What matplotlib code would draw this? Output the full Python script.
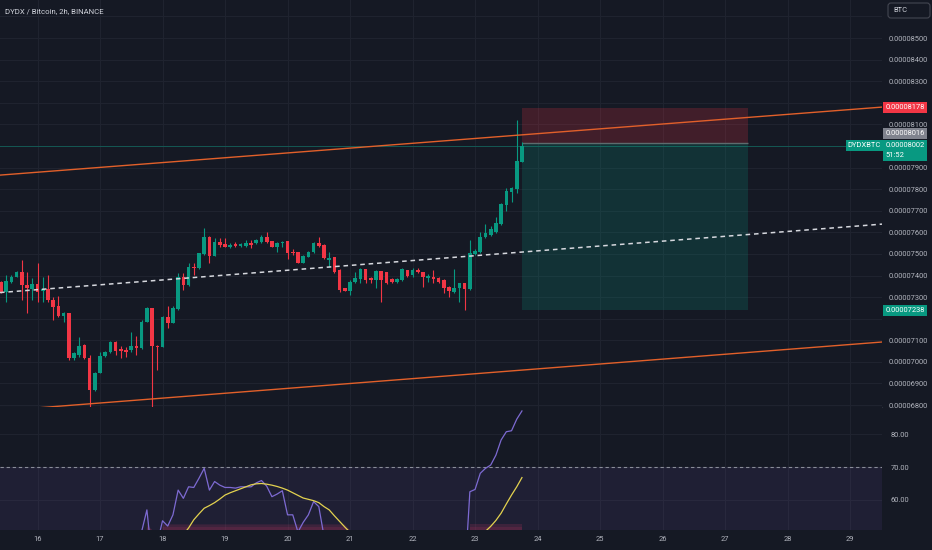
import matplotlib
matplotlib.use('Agg')
import matplotlib.pyplot as plt
import matplotlib.transforms as mtransforms
from matplotlib.patches import FancyBboxPatch
from matplotlib.ticker import FuncFormatter
import numpy as np

plt.rcParams['font.family'] = ['Roboto', 'DejaVu Sans']

# DYDX/BTC 2h candles, prices in satoshi (1e-8 BTC); first bar opens day 15, 10:00
start_day = 15 + 10 / 24.0
opens = [7371, 7322, 7368, 7391, 7418, 7356, 7337, 7361, 7328, 7337,
         7286, 7259, 7212, 7225, 7016, 7032, 7078, 7019, 6870, 6950,
         7027, 7044, 7093, 7058, 7055, 7055, 7075, 7063, 7186, 7248,
         7073, 7070, 7209, 7181, 7243, 7391, 7356, 7441, 7433, 7500,
         7580, 7492, 7557, 7546, 7533, 7546, 7537, 7537, 7552, 7549,
         7557, 7577, 7561, 7533, 7549, 7561, 7510, 7507, 7459, 7487,
         7507, 7552, 7541, 7472, 7484, 7425, 7340, 7330, 7368, 7382,
         7428, 7387, 7379, 7421, 7415, 7384, 7368, 7379, 7425, 7402,
         7425, 7418, 7390, 7391, 7390, 7379, 7348, 7325, 7340, 7364,
         7337, 7500, 7510, 7577, 7588, 7603, 7639, 7727, 7788, 7799,
         7927]
highs = [7375, 7402, 7402, 7422, 7472, 7418, 7387, 7456, 7395, 7402,
         7302, 7305, 7232, 7228, 7047, 7114, 7083, 7032, 6955, 7047,
         7050, 7098, 7097, 7073, 7070, 7137, 7121, 7194, 7252, 7251,
         7078, 7212, 7259, 7259, 7413, 7413, 7456, 7456, 7506, 7618,
         7583, 7572, 7572, 7572, 7549, 7557, 7550, 7564, 7564, 7568,
         7588, 7603, 7561, 7557, 7561, 7561, 7521, 7507, 7495, 7515,
         7557, 7577, 7546, 7507, 7487, 7428, 7343, 7379, 7418, 7433,
         7428, 7391, 7425, 7421, 7418, 7387, 7387, 7433, 7425, 7433,
         7433, 7418, 7407, 7425, 7395, 7382, 7351, 7428, 7367, 7367,
         7566, 7521, 7603, 7639, 7629, 7673, 7734, 7804, 7812, 8120,
         8020]
lows = [7320, 7279, 7364, 7391, 7286, 7225, 7286, 7279, 7279, 7279,
        7194, 7209, 7186, 7009, 7009, 7024, 7011, 6792, 6867, 6947,
        7024, 7040, 7032, 7019, 7024, 7047, 7032, 7060, 7183, 6792,
        6962, 7067, 7155, 7178, 7240, 7333, 7353, 7402, 7430, 7495,
        7459, 7490, 7533, 7530, 7526, 7533, 7533, 7530, 7526, 7546,
        7549, 7549, 7530, 7510, 7530, 7475, 7495, 7456, 7456, 7484,
        7503, 7533, 7475, 7441, 7413, 7325, 7327, 7310, 7364, 7364,
        7364, 7364, 7340, 7279, 7359, 7364, 7364, 7374, 7395, 7395,
        7410, 7348, 7371, 7364, 7364, 7317, 7299, 7320, 7279, 7240,
        7334, 7495, 7506, 7572, 7583, 7598, 7636, 7700, 7742, 7781,
        7924]
closes = [7325, 7374, 7395, 7418, 7356, 7340, 7361, 7325, 7337, 7286,
          7256, 7212, 7225, 7016, 7039, 7075, 7016, 6870, 6950, 7027,
          7044, 7093, 7052, 7050, 7047, 7075, 7063, 7186, 7248, 7073,
          7067, 7209, 7181, 7248, 7391, 7356, 7441, 7433, 7503, 7580,
          7492, 7557, 7541, 7533, 7541, 7537, 7546, 7549, 7541, 7564,
          7577, 7557, 7533, 7552, 7557, 7503, 7503, 7459, 7490, 7510,
          7552, 7537, 7479, 7479, 7418, 7333, 7330, 7371, 7387, 7428,
          7379, 7379, 7422, 7379, 7364, 7368, 7382, 7428, 7399, 7425,
          7415, 7391, 7399, 7384, 7371, 7344, 7328, 7340, 7364, 7337,
          7503, 7515, 7580, 7595, 7614, 7642, 7731, 7793, 7804, 7930,
          8002]

rsi = [45, 48, 49, 50, 44, 43, 46, 42, 44, 40,
       37, 34, 35, 24, 27, 33, 29, 22, 30, 38,
       40, 45, 41, 40, 40, 44, 43, 50.5, 57.0, 42.0,
       47.0, 53.7, 52.1, 55.5, 63.0, 60.5, 64.0, 63.8, 66.6, 69.6,
       63.0, 65.6, 64.5, 63.8, 63.8, 63.6, 64.0, 64.0, 64.0, 65.2,
       65.9, 64.2, 61.0, 61.8, 62.8, 55.5, 55.5, 50.3, 53.2, 55.5,
       59.5, 58.0, 49.0, 45, 40, 33, 33, 38, 40, 44,
       40, 40, 44, 40, 37, 37, 39, 44, 42, 44,
       43, 40, 41, 41, 40, 37, 35, 37, 40, 36,
       62.5, 63.2, 68.1, 69.6, 70.6, 73.6, 78.2, 80.7, 81.0, 84.5,
       87.0]
rsi_ma = [46, 46, 46, 46, 46, 45.5, 45.5, 45, 45, 44.5,
          44, 43.5, 43, 42, 41.5, 41, 40.5, 40, 39.5, 39.5,
          39.5, 39.5, 39.5, 39.5, 39.5, 40, 40.5, 41, 42, 42.5,
          43.5, 44.5, 46, 47.5, 48.5, 49.5, 51.5, 54.0, 55.8, 57.5,
          58.3, 59.2, 60.3, 61.5, 62.2, 62.8, 63.4, 64.0, 64.6, 64.9,
          65.0, 64.8, 64.5, 64.1, 63.6, 63.0, 62.2, 61.4, 60.6, 60.2,
          59.8, 59.2, 58.0, 57.0, 55.2, 53.5, 51.8, 50.2, 48.5, 47.2,
          46.0, 45.0, 44.2, 43.5, 42.8, 42.2, 41.8, 41.5, 41.2, 41.0,
          40.8, 40.6, 40.5, 40.4, 40.3, 40.2, 40.1, 40.0, 40.0, 39.9,
          42.0, 44.5, 47.5, 50.5, 52.0, 53.8, 56.0, 58.8, 61.5, 64.0,
          66.8]

day_ticks = list(range(16, 30))
price_ticks = list(range(6800, 8700, 100))
hidden_ticks = [8600, 8200, 8000, 7200]   # covered by the BTC box and the price tags
rsi_ticks = [60, 70, 80]

# trend channel (day, price)
upper_x, upper_y = [15.4, 29.51], [7865, 8180]
mid_x, mid_y = [15.4, 29.51], [7321, 7638]
lower_x, lower_y = [15.96, 29.51], [6786, 7092]

# short position tool
entry_price = 8016
stop_price = 8178
target_price = 7238
pos_start, pos_end = 23.75, 27.37
last_price = 8002
countdown = '51:52'

bg = '#151924'
grid_c = '#1f232f'
txt_c = '#b2b5be'
green = '#089981'
red = '#f23645'

fig = plt.figure(figsize=(9.32, 5.5), dpi=100)
fig.patch.set_facecolor(bg)
ax = fig.add_axes([0, 143 / 550, 882 / 932, 407 / 550])
ax_rsi = fig.add_axes([0, 20 / 550, 882 / 932, 123 / 550], sharex=ax)

t = start_day + np.arange(len(opens)) / 12.0
o = np.array(opens, dtype=float)
c = np.array(closes, dtype=float)
cols = np.where(c >= o, green, red)

for a in (ax, ax_rsi):
    a.set_facecolor(bg)
    for s in a.spines.values():
        s.set_visible(False)
    a.grid(True, color=grid_c, lw=0.8)
    a.set_axisbelow(True)
    a.yaxis.tick_right()

ax.spines['bottom'].set_visible(True)
ax.spines['bottom'].set_color('#2a2e39')

# position zones
ax.fill_between([pos_start, pos_end], entry_price, stop_price, color=red, alpha=0.2, lw=0, zorder=1)
ax.fill_between([pos_start, pos_end], target_price, entry_price, color=green, alpha=0.2, lw=0, zorder=1)
ax.hlines(entry_price, pos_start, pos_end, color='#5d6b6e', lw=1.0, zorder=2)

ax.axhline(last_price, color=green, lw=0.7, alpha=0.45, zorder=2)

# candles
ax.vlines(t, lows, highs, colors=cols, lw=0.8, zorder=3)
ax.bar(t, np.maximum(np.abs(c - o), 3), bottom=np.minimum(o, c), width=0.058,
       color=cols, linewidth=0, zorder=4)

# channel
ax.plot(upper_x, upper_y, color='#e2602a', lw=1.0, zorder=5)
ax.plot(lower_x, lower_y, color='#e2602a', lw=1.0, zorder=5)
ax.plot(mid_x, mid_y, color='#d6d8de', lw=1.1, ls=(0, (3, 2.5)), zorder=5)

ax.set_xlim(15.4, 29.51)
ax.set_ylim(6791, 8676)
ax.set_xticks(day_ticks)
ax.set_yticks(price_ticks)
ax.yaxis.set_major_formatter(FuncFormatter(
    lambda v, p: '' if round(v) in hidden_ticks else f'{v * 1e-8:.8f}'))
ax.tick_params(axis='x', length=0, labelbottom=False)
ax.tick_params(axis='y', length=0, pad=4.5, labelsize=5.4, labelcolor=txt_c)

# RSI pane
ax_rsi.axhspan(30, 70, color='#7e57c2', alpha=0.1, lw=0)
ax_rsi.axhline(70, color='#8a8d99', lw=0.8, ls=(0, (3, 2.5)))
rsi_a = np.array(rsi)
ma_a = np.array(rsi_ma)
ax_rsi.fill_between(t, 50.9, 52.6, where=(rsi_a > 51) | (ma_a > 51), color='#a8325a',
                    alpha=0.22, lw=0, interpolate=True)
ax_rsi.fill_between(t, 50.9, 51.8, where=(rsi_a > 51) | (ma_a > 51), color='#a8325a',
                    alpha=0.2, lw=0, interpolate=True)
ax_rsi.plot(t, rsi_a, color='#7d6ad2', lw=0.9)
ax_rsi.plot(t, ma_a, color='#e3d24f', lw=0.9)
ax_rsi.set_ylim(50.9, 88.2)
ax_rsi.set_yticks(rsi_ticks)
ax_rsi.yaxis.set_major_formatter(FuncFormatter(lambda v, p: f'{v:.2f}'))
ax_rsi.set_xticks(day_ticks)
ax_rsi.set_xticklabels([str(d) for d in day_ticks])
ax_rsi.tick_params(axis='x', length=0, pad=4.5, labelsize=5.4, labelcolor=txt_c)
ax_rsi.tick_params(axis='y', length=0, pad=6, labelsize=5.4, labelcolor=txt_c)

# price tags on the scale
trans = mtransforms.blended_transform_factory(ax.transAxes, ax.transData)


def price_tag(price, text, fc, dy=0, x=1.004, ha='left'):
    tr = mtransforms.offset_copy(trans, fig=fig, x=0, y=dy, units='dots')
    ax.text(x, price, text, transform=tr, ha=ha, va='center', fontsize=5.4, color='white',
            multialignment='left', linespacing=1.45,
            bbox=dict(boxstyle='square,pad=0.3', fc=fc, ec='none'), clip_on=False, zorder=20)


price_tag(stop_price, f'{stop_price * 1e-8:.8f}', red)
price_tag(entry_price, f'{entry_price * 1e-8:.8f}', '#80838e', dy=9)
price_tag(last_price, f'{last_price * 1e-8:.8f}\n{countdown}', green, dy=-5)
price_tag(last_price, 'DYDXBTC', green, x=0.999, ha='right')
price_tag(target_price, f'{target_price * 1e-8:.8f}', green)

fig.text(5 / 932, 1 - 11 / 550, 'DYDX / Bitcoin, 2h, BINANCE', fontsize=5.6,
         color='#d1d4dc', va='center')
fig.patches.append(FancyBboxPatch((8.88, 5.32), 0.42, 0.15,
                                  boxstyle='round,pad=0,rounding_size=0.03',
                                  transform=fig.dpi_scale_trans, fc=bg, ec='#434651', lw=0.8))
fig.text(8.93 / 9.32, 1 - 10.5 / 550, 'BTC', fontsize=5.4, color='#d1d4dc', va='center')

fig.savefig('out.png', dpi=100, facecolor=bg)
